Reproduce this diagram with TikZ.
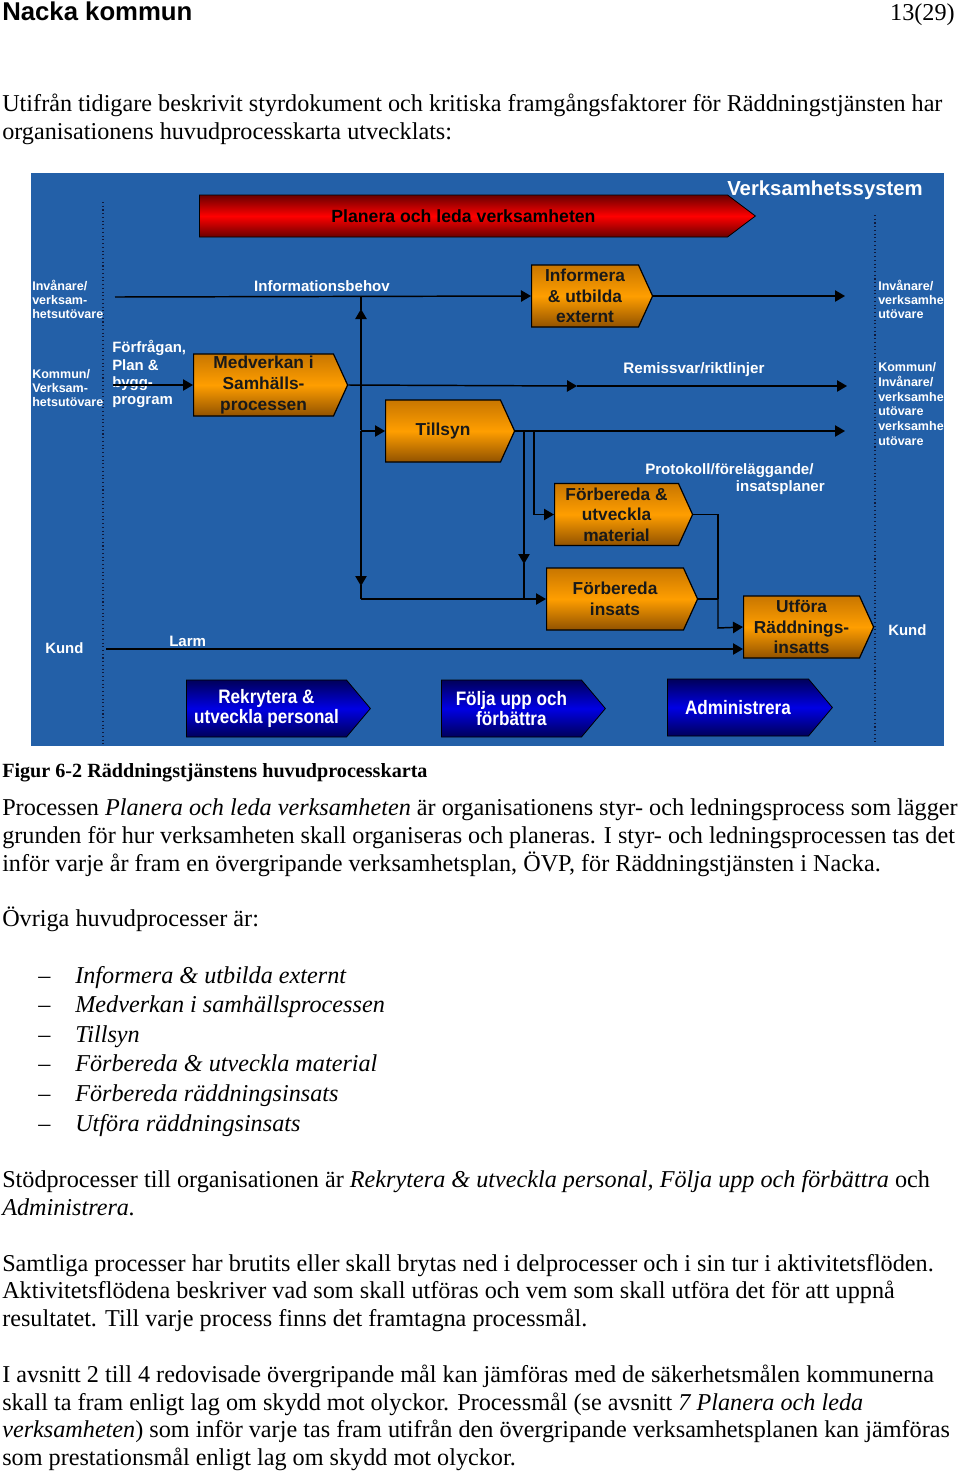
\documentclass[tikz,border=0pt]{standalone}
\usepackage{fontspec}
\setmainfont{Liberation Serif}
\newfontfamily\diagfont{Liberation Sans}
\newfontfamily\narrowfont[FakeStretch=0.88]{Liberation Sans}
\usetikzlibrary{shapes.symbols, arrows.meta, positioning, calc}
\definecolor{sysblue}{RGB}{35,96,168}
\definecolor{dotnavy}{RGB}{15,25,60}
\definecolor{orangetop}{RGB}{200,118,0}
\definecolor{orangemid}{RGB}{255,158,0}
\definecolor{orangebot}{RGB}{145,82,0}
\definecolor{redtop}{RGB}{105,0,0}
\definecolor{redmid}{RGB}{255,0,0}
\definecolor{navytop}{RGB}{0,0,90}
\definecolor{navymid}{RGB}{0,0,228}
\newcommand\bodysize{\fontsize{18.15}{21}\selectfont}
\newcommand\labsize{\fontsize{9.4}{10.5}\selectfont}

\begin{document}
\begin{tikzpicture}[x=0.75pt, y=-0.75pt,
    proc/.style={shape=signal, signal to=east, signal pointer angle=131,
                 draw=black, line width=0.9pt, inner sep=0pt, minimum height=46.5pt,
                 align=center, text=black!90,
                 font=\diagfont\bfseries\fontsize{13}{15.4}\selectfont,
                 top color=orangetop, bottom color=orangebot, middle color=orangemid},
    support/.style={shape=signal, signal to=east, signal pointer angle=100,
                 draw=black, line width=0.6pt, inner sep=0pt, minimum height=42.75pt,
                 align=center, text=white,
                 font=\narrowfont\bfseries\fontsize{14.6}{15}\selectfont,
                 top color=navytop, bottom color=navytop, middle color=navymid},
    lab/.style={text=white, inner sep=0pt, font=\diagfont\bfseries\labsize, align=left},
    flowlab/.style={text=white, inner sep=0pt, font=\diagfont\bfseries\fontsize{11.3}{12.75}\selectfont, align=left},
    flow/.style={draw=black, line width=1.1pt},
    arr/.style={flow, -{Triangle[length=7.5pt, width=8.5pt]}},
    lane/.style={draw=dotnavy, line width=0.8pt, dotted},
    bodyline/.style={anchor=base west, inner sep=0pt, font=\bodysize},
    listitem/.style={anchor=base west, inner sep=0pt, font=\bodysize\itshape}
]
\useasboundingbox (0,0) rectangle (960,1475);
\fill[white] (0,0) rectangle (960,1475);

% page header
\node[anchor=base west, inner sep=0pt, font=\diagfont\bfseries\fontsize{19.3}{22}\selectfont] (kommun) at (2,20) {Nacka kommun};
\node[anchor=base east, inner sep=0pt, font=\bodysize] (sida) at (955,20) {13(29)};

\node[bodyline] (intro1) at (2,111) {Utifrån tidigare beskrivit styrdokument och kritiska framgångsfaktorer för Räddningstjänsten har};
\node[bodyline] (intro2) at (2,139) {organisationens huvudprocesskarta utvecklats:};

% process map
\fill[sysblue] (31,173) rectangle (944,746);
\draw[lane] (103,202) -- (103,745);
\draw[lane] (875,215) -- (875,745);

\node[anchor=west, text=white, inner sep=0pt, font=\diagfont\bfseries\fontsize{15.25}{17}\selectfont] (system) at (727,190) {Verksamhetssystem};

\node[shape=signal, signal to=east, signal pointer angle=74, draw=black, line width=0.6pt,
      inner sep=0pt, minimum height=31.5pt, minimum width=417pt, anchor=west,
      top color=redtop, bottom color=redtop, middle color=redmid,
      font=\diagfont\bfseries\fontsize{13.25}{15}\selectfont, text=black] (planera) at (199,216) {Planera och leda verksamheten};

% core processes
\node[proc, minimum width=90.75pt, anchor=west] (informera) at (531,296) {Informera\\\&~utbilda\\externt};
\node[proc, minimum width=115.5pt, anchor=west] (medverkan) at (193,385) {Medverkan i\\Samhälls-\\processen};
\node[proc, minimum width=96.75pt, anchor=west] (tillsyn) at (385,431) {Tillsyn};
\node[proc, minimum width=103.5pt, anchor=west] (material) at (554,514.5) {Förbereda \&\\utveckla\\material};
\node[proc, minimum width=113.25pt, anchor=west] (insats) at (546,599) {Förbereda\\insats};
\node[proc, minimum width=97.5pt, anchor=west] (utfora) at (743,627) {Utföra\\Räddnings-\\insatts};

% support processes
\node[support, minimum width=138pt, anchor=west] (rekrytera) at (186,708.5) {Rekrytera \&\\utveckla personal};
\node[support, minimum width=123pt, anchor=west] (folja) at (441,708.5) {Följa upp och\\förbättra};
\node[support, minimum width=123.75pt, anchor=west] (administrera) at (667,707.5) {Administrera};

% lane labels
\node[lab, anchor=west] (invL) at (32,299) {Invånare/\\verksam-\\hetsutövare};
\node[lab, anchor=west] (kommunL) at (32,388) {Kommun/\\Verksam-\\hetsutövare};
\node[lab, anchor=west, font=\diagfont\bfseries\fontsize{11.2}{12}\selectfont] (kundL) at (45,648) {Kund};
\begin{scope}
  \clip (31,173) rectangle (944,746);
  \node[lab, anchor=west] (invR) at (878,299) {Invånare/\\verksamhet\\utövare};
  \node[lab, anchor=west, font=\diagfont\bfseries\fontsize{9.4}{11.1}\selectfont] (kommunR) at (878,404) {Kommun/\\Invånare/\\verksamhet\\utövare\\verksamhet\\utövare};
\end{scope}
\node[lab, anchor=west, font=\diagfont\bfseries\fontsize{11.2}{12}\selectfont] (kundR) at (888,630) {Kund};

% flow labels
\node[flowlab] (infobehov) at (322,286) {Informationsbehov};
\node[flowlab, font=\diagfont\bfseries\fontsize{11.4}{13}\selectfont] (remiss) at (694,370) {Remissvar/riktlinjer};
\node[flowlab, anchor=north west, font=\diagfont\bfseries\fontsize{11.2}{13.1}\selectfont] (forfragan) at (112,340) {Förfrågan,\\Plan \&\\bygg-\\program};
\node[flowlab, anchor=north west] (protokoll) at (645,463) {Protokoll/föreläggande/\\\hspace*{68pt}insatsplaner};
\node[flowlab, anchor=west] (larm) at (169,641) {Larm};

% free ends
\coordinate (infoStart) at (115,297);
\coordinate (infoEnd) at (845,296);
\coordinate (forfStart) at (113,385);
\coordinate (remissEnd) at (847,386);
\coordinate (tillsynEnd) at (845,431);
\coordinate (larmStart) at (106,649);
\coordinate (busTop) at (361,297);
\coordinate (busBottom) at (361,599);

% connectors
\draw[arr] (infoStart) -- (informera.west);
\draw[arr] (informera.east) -- (infoEnd);
\draw[arr] (forfStart) -- (medverkan.west);
\draw[arr] (medverkan.east) -- (577,386);
\draw[arr] (577,386) -- (remissEnd);
\draw[arr] (361,430) -- (361,309);
\draw[flow] (361,310) -- (busTop);
\draw[arr] (361,431) -- (361,586);
\draw[flow] (361,585) -- (busBottom);
\draw[arr] (busBottom) -- (insats.west);
\draw[arr] (361,431) -- (tillsyn.west);
\draw[arr] (tillsyn.east) -- (tillsynEnd);
\draw[arr] (524,431) -- (524,564);
\draw[flow] (524,563) -- (524,599);
\draw[arr] (534,431) -- (534,514.5) -- (material.west);
\draw[flow] (material.east) -- (718,514.5) -- (718,599);
\draw[arr] (718,598) -- (718,628) -- (utfora.west);
\draw[flow] (insats.east) -- (718,599);
\draw[arr] (larmStart) -- (larmStart -| utfora.west);

% caption and text
\node[bodyline, font=\fontsize{15.1}{17}\selectfont\bfseries] (figur) at (2,777) {Figur 6-2 Räddningstjänstens huvudprocesskarta};
\node[bodyline] (p1a) at (2,815) {Processen \textit{Planera och leda verksamheten} är organisationens styr- och ledningsprocess som lägger};
\node[bodyline] (p1b) at (2,843) {grunden för hur verksamheten skall organiseras och planeras. I styr- och ledningsprocessen tas det};
\node[bodyline] (p1c) at (2,871) {inför varje år fram en övergripande verksamhetsplan, ÖVP, för Räddningstjänsten i Nacka.};
\node[bodyline] (p2) at (2,926) {Övriga huvudprocesser är:};

\foreach \txt [count=\i from 0] in {Informera \& utbilda externt, Medverkan i samhällsprocessen, Tillsyn,
    Förbereda \& utveckla material, Förbereda räddningsinsats, Utföra räddningsinsats}{
  \node[bodyline] (dash\i) at (38,983+29.6*\i) {--};
  \node[listitem] (item\i) at (75,983+29.6*\i) {\txt};
}

\node[bodyline] (p3a) at (2,1187) {Stödprocesser till organisationen är \textit{Rekrytera \& utveckla personal, Följa upp och förbättra} och};
\node[bodyline] (p3b) at (2,1215) {\textit{Administrera.}};
\node[bodyline] (p4a) at (2,1271) {Samtliga processer har brutits eller skall brytas ned i delprocesser och i sin tur i aktivitetsflöden.};
\node[bodyline] (p4b) at (2,1298) {Aktivitetsflödena beskriver vad som skall utföras och vem som skall utföra det för att uppnå};
\node[bodyline] (p4c) at (2,1326) {resultatet. Till varje process finns det framtagna processmål.};
\node[bodyline] (p5a) at (2,1382) {I avsnitt 2 till 4 redovisade övergripande mål kan jämföras med de säkerhetsmålen kommunerna};
\node[bodyline] (p5b) at (2,1410) {skall ta fram enligt lag om skydd mot olyckor. Processmål (se avsnitt \textit{7 Planera och leda}};
\node[bodyline] (p5c) at (2,1437) {\textit{verksamheten}) som inför varje tas fram utifrån den övergripande verksamhetsplanen kan jämföras};
\node[bodyline] (p5d) at (2,1465) {som prestationsmål enligt lag om skydd mot olyckor.};
\end{tikzpicture}
\end{document}
